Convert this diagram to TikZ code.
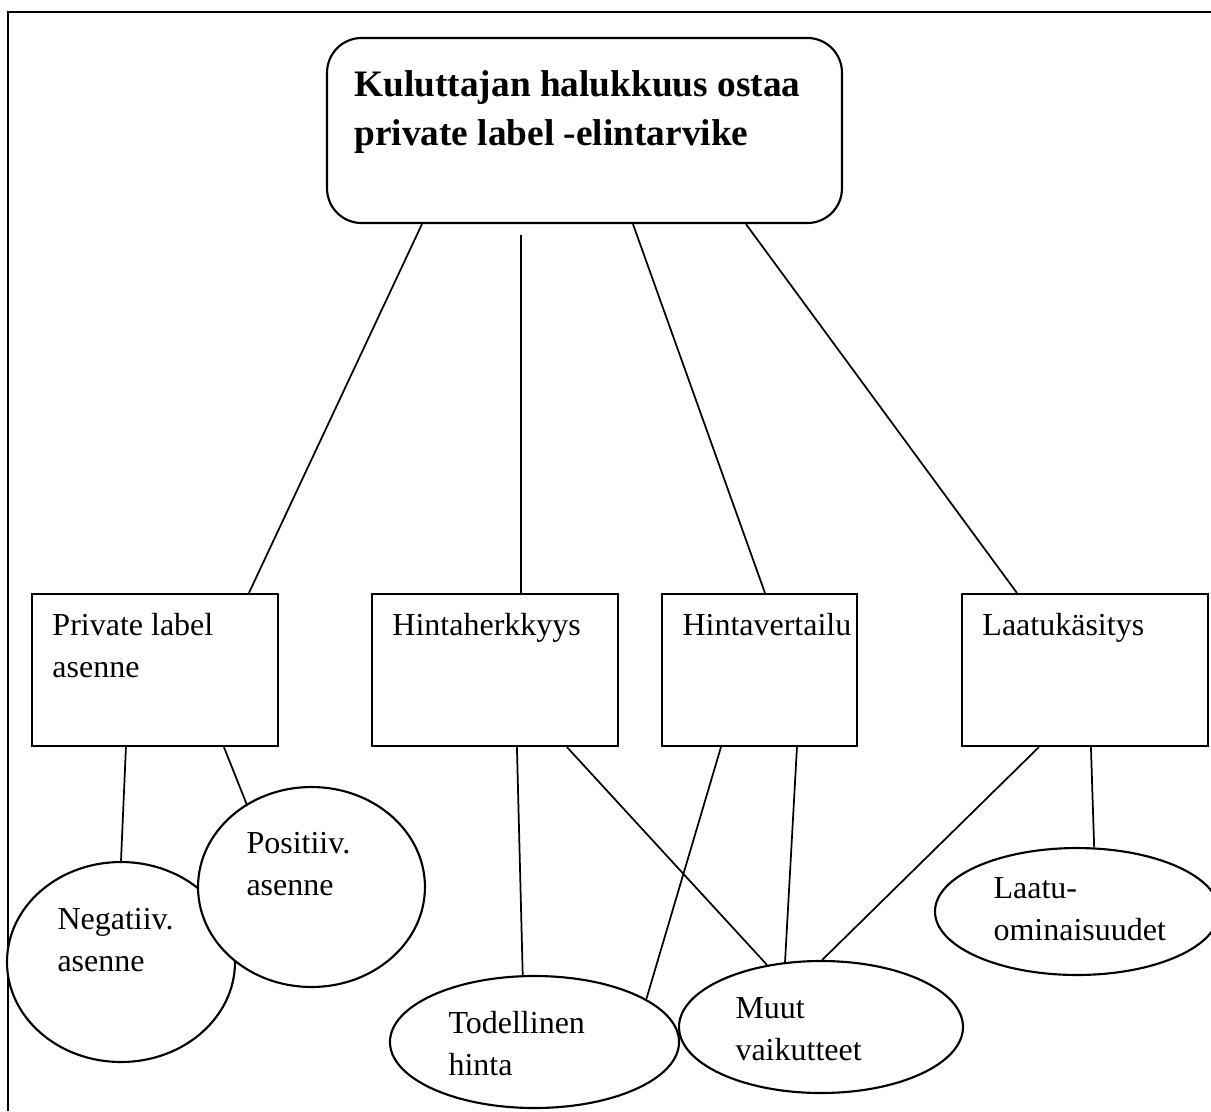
\documentclass[tikz,border=0pt]{standalone}
\usepackage{fontspec}
\setmainfont{Liberation Serif}
\usetikzlibrary{shapes.geometric, positioning, calc}

\tikzset{
  frame/.style={draw=black, line width=1.1pt},
  topbox/.style={rectangle, rounded corners=13pt, draw=black, line width=0.8pt, fill=white, minimum width=193.1pt, minimum height=69.4pt},
  factor/.style={rectangle, draw=black, line width=0.8pt, fill=white, minimum height=57pt},
  oval/.style={ellipse, draw=black, line width=0.8pt, fill=white, inner sep=0pt},
  conn/.style={draw=black, line width=0.65pt},
  txt/.style={font=\fontsize{12pt}{15.75pt}\selectfont, align=left, anchor=base west, inner sep=0pt},
  titletxt/.style={font=\fontsize{14pt}{18.4pt}\selectfont\bfseries, align=left, anchor=base west, inner sep=0pt}
}

\begin{document}
\begin{tikzpicture}[x=0.375pt, y=-0.375pt]
    \useasboundingbox (0,0) rectangle (1211,1111);
    \draw [frame] (8,1111) -- (8,12) -- (1211,12);

    % main box
    \node (kul) [topbox] at (584.5,130.5) {};
    \node (kultxt) [titletxt] at ($(kul.north west)+(28,109)$) {Kuluttajan halukkuus ostaa\\private label -elintarvike};

    % factors
    \node (pl) [factor, minimum width=92.25pt] at (155,670) {};
    \node (hh) [factor, minimum width=92.25pt] at (495,670) {};
    \node (hv) [factor, minimum width=73.1pt] at (759.5,670) {};
    \node (lk) [factor, minimum width=92.25pt] at (1085,670) {};
    \node (pltxt) [txt] at ($(pl.north west)+(21,85)$) {Private label\\asenne};
    \node (hhtxt) [txt] at ($(hh.north west)+(21,43)$) {Hintaherkkyys};
    \node (hvtxt) [txt] at ($(hv.north west)+(21,43)$) {Hintavertailu};
    \node (lktxt) [txt] at ($(lk.north west)+(21,43)$) {Laatukäsitys};

    % sub factors
    \node (neg) [oval, minimum width=85.5pt, minimum height=75pt] at (121,962) {};
    \node (pos) [oval, minimum width=85.1pt, minimum height=75pt] at (311.5,887) {};
    \node (muut) [oval, minimum width=106.5pt, minimum height=49.5pt] at (821,1027) {};
    \node (tod) [oval, minimum width=108.4pt, minimum height=49.5pt] at (534.5,1042) {};
    \node (laatu) [oval, minimum width=106.5pt, minimum height=47.6pt] at (1077,911.5) {};
    \node (negtxt) [txt] at ($(neg.center)+(-64,9)$) {Negatiiv.\\asenne};
    \node (postxt) [txt] at ($(pos.center)+(-65.5,8)$) {Positiiv.\\asenne};
    \node (todtxt) [txt] at ($(tod.center)+(-86.5,33)$) {Todellinen\\hinta};
    \node (muuttxt) [txt] at ($(muut.center)+(-86,33)$) {Muut\\vaikutteet};
    \node (laatutxt) [txt] at ($(laatu.center)+(-84,29)$) {Laatu-\\ominaisuudet};

    \draw [conn] ($(kul.south west)+(96,0)$) -- ($(pl.north west)+(218,0)$);
    \draw [conn] ($(kul.south west)+(195,11)$) -- ($(hh.north west)+(150,0)$);
    \draw [conn] ($(kul.south west)+(307,0)$) -- ($(hv.north west)+(104,0)$);
    \draw [conn] ($(kul.south west)+(420,0)$) -- ($(lk.north west)+(56,0)$);

    \draw [conn] ($(pl.south west)+(95,0)$) -- (neg.north);
    \draw [conn] ($(pl.south west)+(193,0)$) -- (pos.128);
    \draw [conn] ($(hh.south west)+(146,0)$) -- (tod.100);
    \draw [conn] ($(hh.south west)+(196,0)$) -- (muut.131);
    \draw [conn] ($(hv.south west)+(60,0)$) -- (tod.21);
    \draw [conn] ($(hv.south west)+(136,0)$) -- (muut.119);
    \draw [conn] ($(lk.south west)+(78,0)$) -- (muut.89);
    \draw [conn] ($(lk.south west)+(130,0)$) -- (laatu.75);
\end{tikzpicture}
\end{document}
